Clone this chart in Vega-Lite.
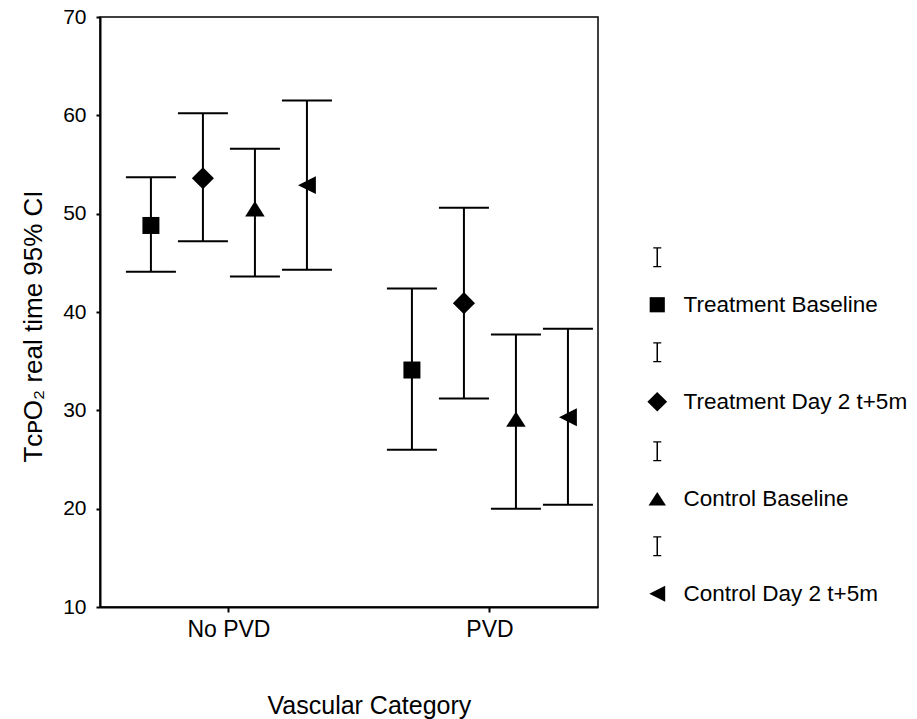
{
  "$schema": "https://vega.github.io/schema/vega-lite/v6.json",
  "width": 498,
  "height": 590,
  "autosize": {"type": "none"},
  "padding": {"left": 100, "top": 17, "right": 319, "bottom": 112},
  "background": "white",
  "config": {
    "font": "Liberation Sans",
    "view": {"stroke": "black", "strokeWidth": 1.5},
    "axis": {
      "grid": false,
      "domainColor": "black",
      "domainWidth": 2,
      "tickColor": "black",
      "tickWidth": 2,
      "tickSize": 4,
      "labelColor": "black",
      "labelFontSize": 21,
      "labelPadding": 4,
      "titleColor": "black",
      "titleFontSize": 24,
      "titleFontWeight": "normal"
    }
  },
  "data": {
    "values": [
      {"category": "No PVD", "series": "Treatment Baseline", "mean": 48.8, "lo": 44.1, "hi": 53.7},
      {"category": "No PVD", "series": "Treatment Day 2 t+5m", "mean": 53.6, "lo": 47.2, "hi": 60.2},
      {"category": "No PVD", "series": "Control Baseline", "mean": 50.5, "lo": 43.6, "hi": 56.6},
      {"category": "No PVD", "series": "Control Day 2 t+5m", "mean": 52.9, "lo": 44.3, "hi": 61.5},
      {"category": "PVD", "series": "Treatment Baseline", "mean": 34.1, "lo": 26.0, "hi": 42.4},
      {"category": "PVD", "series": "Treatment Day 2 t+5m", "mean": 40.9, "lo": 31.2, "hi": 50.6},
      {"category": "PVD", "series": "Control Baseline", "mean": 29.1, "lo": 20.0, "hi": 37.7},
      {"category": "PVD", "series": "Control Day 2 t+5m", "mean": 29.3, "lo": 20.4, "hi": 38.3}
    ]
  },
  "encoding": {
    "x": {
      "field": "category",
      "type": "nominal",
      "sort": ["No PVD", "PVD"],
      "title": "Vascular Category",
      "scale": {"type": "band", "paddingInner": 0.203, "paddingOuter": 0.0555, "align": 0.86},
      "axis": {"labelAngle": 0, "tickSize": 5, "labelPadding": 6, "labelFontSize": 23, "titlePadding": 52, "titleFontSize": 25, "titleX": 167, "titleAlign": "left", "domain": true}
    },
    "xOffset": {
      "field": "series",
      "type": "nominal",
      "sort": ["Treatment Baseline", "Treatment Day 2 t+5m", "Control Baseline", "Control Day 2 t+5m"],
      "scale": {"paddingInner": 0, "paddingOuter": 0}
    }
  },
  "layer": [
    {
      "mark": {"type": "rule", "color": "black", "strokeWidth": 2},
      "encoding": {
        "y": {
          "field": "lo",
          "type": "quantitative",
          "title": "TᴄᴘO₂ real time 95% CI",
          "scale": {"domain": [10, 70], "nice": false, "zero": false},
          "axis": {"values": [10, 20, 30, 40, 50, 60, 70], "titlePadding": 16, "titleFontSize": 26, "titleY": 309, "labelFontSize": 21, "labelPadding": 10}
        },
        "y2": {"field": "hi"}
      }
    },
    {
      "mark": {"type": "tick", "color": "black", "size": 50, "thickness": 2, "opacity": 1},
      "encoding": {"y": {"field": "lo", "type": "quantitative", "title": "TᴄᴘO₂ real time 95% CI"}}
    },
    {
      "mark": {"type": "tick", "color": "black", "size": 50, "thickness": 2, "opacity": 1},
      "encoding": {"y": {"field": "hi", "type": "quantitative", "title": "TᴄᴘO₂ real time 95% CI"}}
    },
    {
      "mark": {"type": "point", "filled": true, "color": "black", "opacity": 1, "size": 289},
      "encoding": {
        "y": {"field": "mean", "type": "quantitative", "title": "TᴄᴘO₂ real time 95% CI"},
        "shape": {
          "field": "series",
          "type": "nominal",
          "scale": {
            "domain": ["_1", "Treatment Baseline", "_2", "Treatment Day 2 t+5m", "_3", "Control Baseline", "_4", "Control Day 2 t+5m"],
            "range": [
              "M-0.53,-1.32H0.53V-1.14H0.1V1.14H0.53V1.32H-0.53V1.14H-0.1V-1.14H-0.53Z",
              "M-1,-1H1V1H-1Z",
              "M-0.53,-1.32H0.53V-1.14H0.1V1.14H0.53V1.32H-0.53V1.14H-0.1V-1.14H-0.53Z",
              "M0,-1.3L1.3,0L0,1.3L-1.3,0Z",
              "M-0.53,-1.32H0.53V-1.14H0.1V1.14H0.53V1.32H-0.53V1.14H-0.1V-1.14H-0.53Z",
              "M0,-0.9L1.15,0.9L-1.15,0.9Z",
              "M-0.53,-1.32H0.53V-1.14H0.1V1.14H0.53V1.32H-0.53V1.14H-0.1V-1.14H-0.53Z",
              "M-1.05,0L1.05,-1.05L1.05,1.05Z"
            ]
          },
          "legend": {
            "orient": "none",
            "legendX": 546,
            "legendY": 229,
            "title": null,
            "padding": 0,
            "labelFontSize": 22.5,
            "labelColor": "black",
            "labelLimit": 400,
            "labelOffset": 15,
            "rowPadding": 22.5,
            "symbolSize": 230,
            "symbolFillColor": "black",
            "symbolStrokeColor": "black",
            "symbolStrokeWidth": 1.5,
            "symbolOpacity": 1,
            "labelExpr": "slice(datum.label, 0, 1) == '_' ? '' : datum.label",
            "encode": {
              "symbols": {
                "fill": {"value": "black"},
                "opacity": {"value": 1}
              }
            }
          }
        }
      }
    }
  ]
}
